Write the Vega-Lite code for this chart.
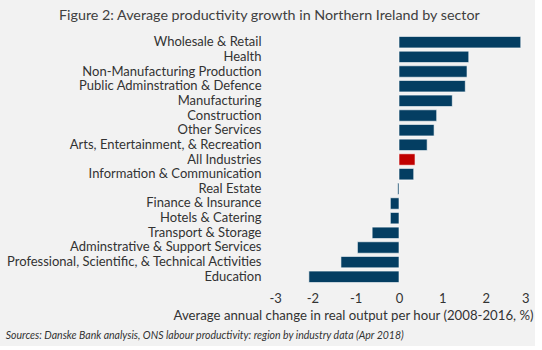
{
  "$schema": "https://vega.github.io/schema/vega-lite/v6.json",
  "background": "#F2F2F2",
  "padding": {"left": 5, "right": 2, "top": 8, "bottom": 4},
  "config": {
    "font": "Lato",
    "view": {"stroke": null}
  },
  "title": {
    "text": "Sources: Danske Bank analysis, ONS labour productivity: region by industry data (Apr 2018)",
    "orient": "bottom",
    "anchor": "start",
    "frame": "bounds",
    "fontSize": 10.5,
    "fontStyle": "italic",
    "fontWeight": "normal",
    "color": "#333333",
    "offset": 10
  },
  "data": {
    "values": [
      {"sector": "Wholesale & Retail", "value": 2.81},
      {"sector": "Health", "value": 1.61},
      {"sector": "Non-Manufacturing Production", "value": 1.57},
      {"sector": "Public Adminstration & Defence", "value": 1.53},
      {"sector": "Manufacturing", "value": 1.23},
      {"sector": "Construction", "value": 0.87},
      {"sector": "Other Services", "value": 0.81},
      {"sector": "Arts, Entertainment, & Recreation", "value": 0.65},
      {"sector": "All Industries", "value": 0.37},
      {"sector": "Information & Communication", "value": 0.34},
      {"sector": "Real Estate", "value": -0.03},
      {"sector": "Finance & Insurance", "value": -0.2},
      {"sector": "Hotels & Catering", "value": -0.2},
      {"sector": "Transport & Storage", "value": -0.62},
      {"sector": "Adminstrative & Support Services", "value": -0.96},
      {"sector": "Professional, Scientific, & Technical Activities", "value": -1.34},
      {"sector": "Education", "value": -2.08}
    ]
  },
  "vconcat": [
    {
      "width": 260,
      "height": 249,
      "title": {
        "text": "Figure 2: Average productivity growth in Northern Ireland by sector",
        "fontSize": 14.3,
        "fontWeight": "normal",
        "color": "#404040",
        "anchor": "middle",
        "frame": "bounds",
        "offset": 12
      },
      "mark": {"type": "bar", "stroke": "#ffffff", "strokeWidth": 0.6},
      "encoding": {
        "y": {
          "field": "sector",
          "type": "nominal",
          "sort": null,
          "scale": {"paddingInner": 0.22, "paddingOuter": 0.1},
          "axis": {
            "title": null,
            "domain": false,
            "ticks": false,
            "labelPadding": 8,
            "labelFontSize": 13,
            "labelColor": "#333333",
            "labelLimit": 0
          }
        },
        "x": {
          "field": "value",
          "type": "quantitative",
          "scale": {"domain": [-3, 3], "nice": false},
          "axis": {
            "values": [-3, -2, -1, 0, 1, 2, 3],
            "labelExpr": "'' + datum.value",
            "grid": false,
            "domain": false,
            "ticks": false,
            "labelPadding": 8,
            "labelFontSize": 13,
            "labelColor": "#333333",
            "title": "Average annual change in real output per hour (2008-2016, %)",
            "titleFontSize": 13.2,
            "titleFontWeight": "normal",
            "titleColor": "#333333",
            "titleAlign": "right",
            "titleX": 264,
            "titlePadding": 4
          }
        },
        "color": {
          "condition": {"test": "datum.sector === 'All Industries'", "value": "#C00000"},
          "value": "#043E62"
        }
      }
    }
  ]
}
